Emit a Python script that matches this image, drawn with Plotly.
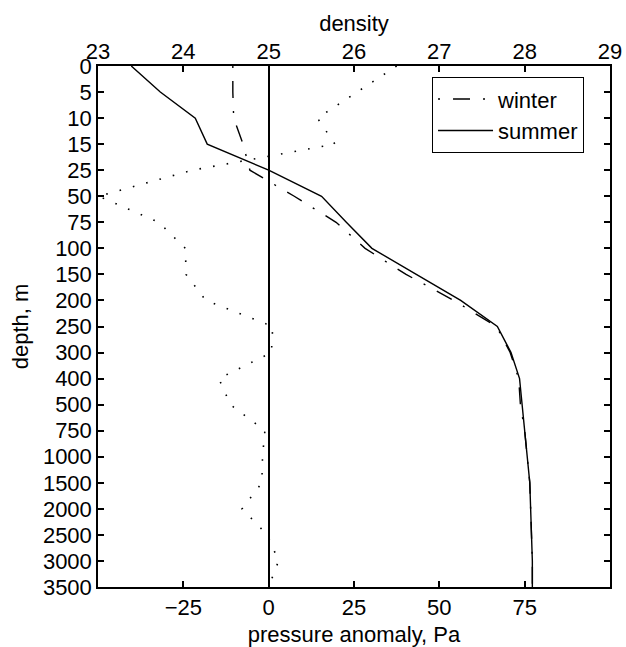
import plotly.graph_objects as go

# ---- data ----
depths = ["0", "5", "10", "15", "25", "50", "75", "100", "150", "200", "250",
          "300", "400", "500", "750", "1000", "1500", "2000", "2500", "3000", "3500"]
winter_density = [24.58, 24.58, 24.59, 24.70, 24.78, 25.30, 25.79, 26.13, 26.61, 27.17, 27.67,
                  27.83, 27.93, 27.95, 28.00, 28.03, 28.06, 28.07, 28.08, 28.09, 28.09]
summer_density = [23.39, 23.73, 24.14, 24.28, 25.00, 25.62, 25.91, 26.21, 26.73, 27.25, 27.68,
                  27.84, 27.94, 27.97, 28.00, 28.03, 28.06, 28.07, 28.08, 28.09, 28.09]
pressure_anomaly = [37.5, 26.0, 14.3, 19.4, -22.4, -49.8, -32.2, -24.4, -24.2, -18.4, 1.2,
                    0.8, -14.6, -11.2, -1.1, -1.8, -2.0, -7.8, -0.4, 2.9, 0.0]
density_ticks = [23, 24, 25, 26, 27, 28, 29]
pressure_ticks = [-25, 0, 25, 50, 75]

FONT = "Liberation Sans, Arial, Helvetica, sans-serif"
FS = 22

fig = go.Figure()
fig.add_trace(go.Scatter(
    x=pressure_anomaly, y=depths, xaxis="x", yaxis="y", mode="lines",
    line=dict(color="black", width=1.6, dash="1.6px,12.2px"),
    showlegend=False, name="pressure anomaly"))
fig.add_trace(go.Scatter(
    x=winter_density, y=depths, xaxis="x2", yaxis="y", mode="lines", name="winter",
    line=dict(color="black", width=1.4, dash="2px,13px,17px,13px")))
fig.add_trace(go.Scatter(
    x=summer_density, y=depths, xaxis="x2", yaxis="y", mode="lines", name="summer",
    line=dict(color="black", width=1.4)))

axis_common = dict(ticks="inside", ticklen=6, tickwidth=1.5, tickcolor="black",
                   showline=True, linecolor="black", linewidth=1.5, showgrid=False,
                   tickfont=dict(family=FONT, size=FS, color="black"))

fig.update_layout(
    width=626, height=647,
    margin=dict(l=98, r=16, t=66, b=60, autoexpand=False),
    paper_bgcolor="white", plot_bgcolor="white",
    font=dict(family=FONT, size=FS, color="black"),
    xaxis=dict(range=[-50, 100], tickvals=pressure_ticks, zeroline=True,
               zerolinecolor="black", zerolinewidth=1.5,
               title=dict(text="pressure anomaly, Pa", standoff=7,
                          font=dict(family=FONT, size=FS, color="black")),
               **axis_common),
    xaxis2=dict(range=[23, 29], tickvals=density_ticks, overlaying="x", side="top",
                anchor="y", zeroline=False, ticklabelstandoff=-4,
                title=dict(text="density", standoff=2,
                           font=dict(family=FONT, size=FS, color="black")),
                **axis_common),
    yaxis=dict(type="category", categoryorder="array", categoryarray=depths,
               range=[len(depths) - 1, 0], mirror="ticks", zeroline=False,
               title=dict(text="depth, m", standoff=8,
                          font=dict(family=FONT, size=FS, color="black")),
               **axis_common),
    legend=dict(x=0.652, y=0.979, xanchor="left", yanchor="top",
                bordercolor="black", borderwidth=1.2, bgcolor="white",
                font=dict(family=FONT, size=FS, color="black"),
                itemwidth=55, entrywidth=112, entrywidthmode="pixels",
                tracegroupgap=0),
)

fig.write_html("out.html", config={"displayModeBar": False},
               post_script="document.body.style.margin='0px';")
